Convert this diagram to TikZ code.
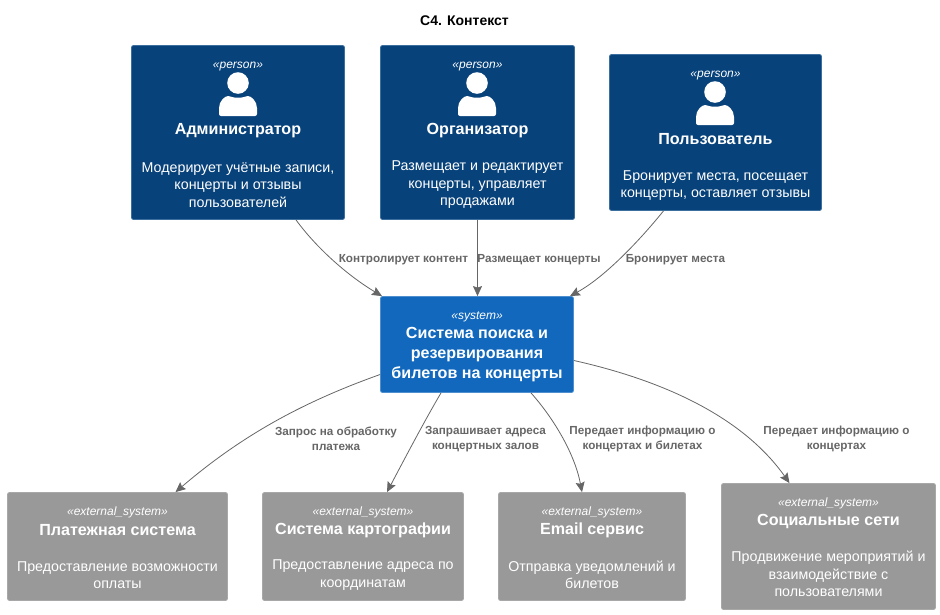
\documentclass[tikz,border=0pt]{standalone}
\usepackage{fontspec}
\setmainfont{Liberation Sans}
\usepackage{xcolor}
\usetikzlibrary{arrows.meta}
\definecolor{personblue}{HTML}{08427B}
\definecolor{personedge}{HTML}{3C6E9E}
\definecolor{systemblue}{HTML}{1168BD}
\definecolor{systemedge}{HTML}{4F8FD0}
\definecolor{extgray}{HTML}{999999}
\definecolor{extedge}{HTML}{A8A8A8}
\definecolor{relgray}{HTML}{666666}
\tikzset{
  box/.style={rectangle, rounded corners=2pt, inner sep=0pt, line width=0.8pt},
  personbox/.style={box, fill=personblue, draw=personedge},
  systembox/.style={box, fill=systemblue, draw=systemedge},
  extbox/.style={box, fill=extgray, draw=extedge},
  tagtext/.style={text=white, font=\fontsize{12}{14}\selectfont\itshape, anchor=base},
  nametext/.style={text=white, font=\fontsize{16.1}{20}\selectfont\bfseries, align=center, inner sep=0pt},
  desctext/.style={text=white, font=\fontsize{14.25}{17.5}\selectfont, align=center, inner sep=0pt},
  rellabel/.style={text=relgray, font=\fontsize{11.7}{15}\selectfont\bfseries, align=center, inner sep=0pt},
  rel/.style={draw=relgray, line width=0.8pt, -{Stealth[length=10pt,width=9pt,inset=1.5pt]}},
  personicon/.pic={
    \fill[white] (0,0) circle (10.8);
    \fill[white,rounded corners=2pt] (-19,33) -- (-19,27)
      .. controls (-19,18) and (-13,13) .. (-8,13)
      .. controls (-4,15) and (4,15) .. (8,13)
      .. controls (13,13) and (19,18) .. (19,27) -- (19,33) -- cycle;
  },
}
\begin{document}
\begin{tikzpicture}[x=1pt, y=-1pt]
\useasboundingbox (0,0) rectangle (940,614);
\node[text=black, font=\fontsize{14}{16}\selectfont\bfseries] (title) at (464.5,20.5) {C4. Контекст};
% People
\node[personbox, minimum width=213pt, minimum height=174pt] (admin) at (238,132.5) {};
\node[personbox, minimum width=194pt, minimum height=174pt] (org) at (477.5,132.5) {};
\node[personbox, minimum width=212pt, minimum height=156pt] (user) at (715.5,132.5) {};
\node[tagtext] (adminTag) at (238,68) {«person»};
\node[tagtext] (orgTag) at (477.5,68) {«person»};
\node[tagtext] (userTag) at (715.5,77) {«person»};
\pic at (238,83) {personicon};
\pic at (477,83) {personicon};
\pic at (715,92) {personicon};
\node[nametext] (adminName) at (238,131) {Администратор};
\node[nametext] (orgName) at (477.5,131) {Организатор};
\node[nametext] (userName) at (715.5,139.5) {Пользователь};
\node[desctext] (adminDesc) at (238,184.7) {Модерирует учётные записи,\\концерты и отзывы\\пользователей};
\node[desctext] (orgDesc) at (477.5,184.7) {Размещает и редактирует\\концерты, управляет\\продажами};
\node[desctext] (userDesc) at (715.5,185.7) {Бронирует места, посещает\\концерты, оставляет отзывы};
% Central system
\node[systembox, minimum width=193pt, minimum height=96pt] (sys) at (477,344.5) {};
\node[tagtext] (sysTag) at (477,319) {«system»};
\node[nametext] (sysName) at (477,354.7) {Система поиска и\\резервирования\\билетов на концерты};
% External systems
\node[extbox, minimum width=220pt, minimum height=108pt] (pay) at (117.5,546.5) {};
\node[extbox, minimum width=201pt, minimum height=108pt] (map) at (363,546.5) {};
\node[extbox, minimum width=187pt, minimum height=108pt] (mail) at (592,546.5) {};
\node[extbox, minimum width=214pt, minimum height=126pt] (soc) at (828.5,546.5) {};
\node[tagtext] (payTag) at (117.5,515) {«external\_system»};
\node[tagtext] (mapTag) at (363,515) {«external\_system»};
\node[tagtext] (mailTag) at (592,515) {«external\_system»};
\node[tagtext] (socTag) at (828.5,506) {«external\_system»};
\node[nametext] (payName) at (117.5,530) {Платежная система};
\node[nametext] (mapName) at (363,530) {Система картографии};
\node[nametext] (mailName) at (592,530) {Email сервис};
\node[nametext] (socName) at (828.5,521) {Социальные сети};
\node[desctext] (payDesc) at (117.5,575) {Предоставление возможности\\оплаты};
\node[desctext] (mapDesc) at (363,575) {Предоставление адреса по\\координатам};
\node[desctext] (mailDesc) at (592,575) {Отправка уведомлений и\\билетов};
\node[desctext] (socDesc) at (828.5,574) {Продвижение мероприятий и\\взаимодействие с\\пользователями};
% Connectors
\draw[rel] ([xshift=58pt]admin.south) .. controls (318,250) and (350,277) .. ([xshift=-95pt]sys.north);
\draw[rel] (org.south) -- ([xshift=0.5pt]sys.north);
\draw[rel] ([xshift=-52pt]user.south) .. controls (640,240) and (605,277) .. ([xshift=93pt]sys.north);
\draw[rel] ([yshift=-30pt]sys.west) .. controls (300,403) and (240,437) .. ([xshift=58pt]pay.north);
\draw[rel] ([xshift=-36pt]sys.south) .. controls (425,420) and (405,458) .. ([xshift=24pt]map.north);
\draw[rel] ([xshift=54pt]sys.south) .. controls (555,420) and (575,455) .. ([xshift=-10pt]mail.north);
\draw[rel] ([yshift=-16pt]sys.east) .. controls (670,382) and (745,420) .. ([xshift=-39pt]soc.north);
% Connector labels
\node[rellabel] (adminRel) at (403.5,259.5) {Контролирует контент};
\node[rellabel] (orgRel) at (539,259.5) {Размещает концерты};
\node[rellabel] (userRel) at (675.5,259.5) {Бронирует места};
\node[rellabel] (payRel) at (336,439) {Запрос на обработку\\платежа};
\node[rellabel] (mapRel) at (485.5,439) {Запрашивает адреса\\концертных залов};
\node[rellabel] (mailRel) at (642.5,439) {Передает информацию о\\концертах и билетах};
\node[rellabel] (socRel) at (836.5,439) {Передает информацию о\\концертах};
\end{tikzpicture}
\end{document}
